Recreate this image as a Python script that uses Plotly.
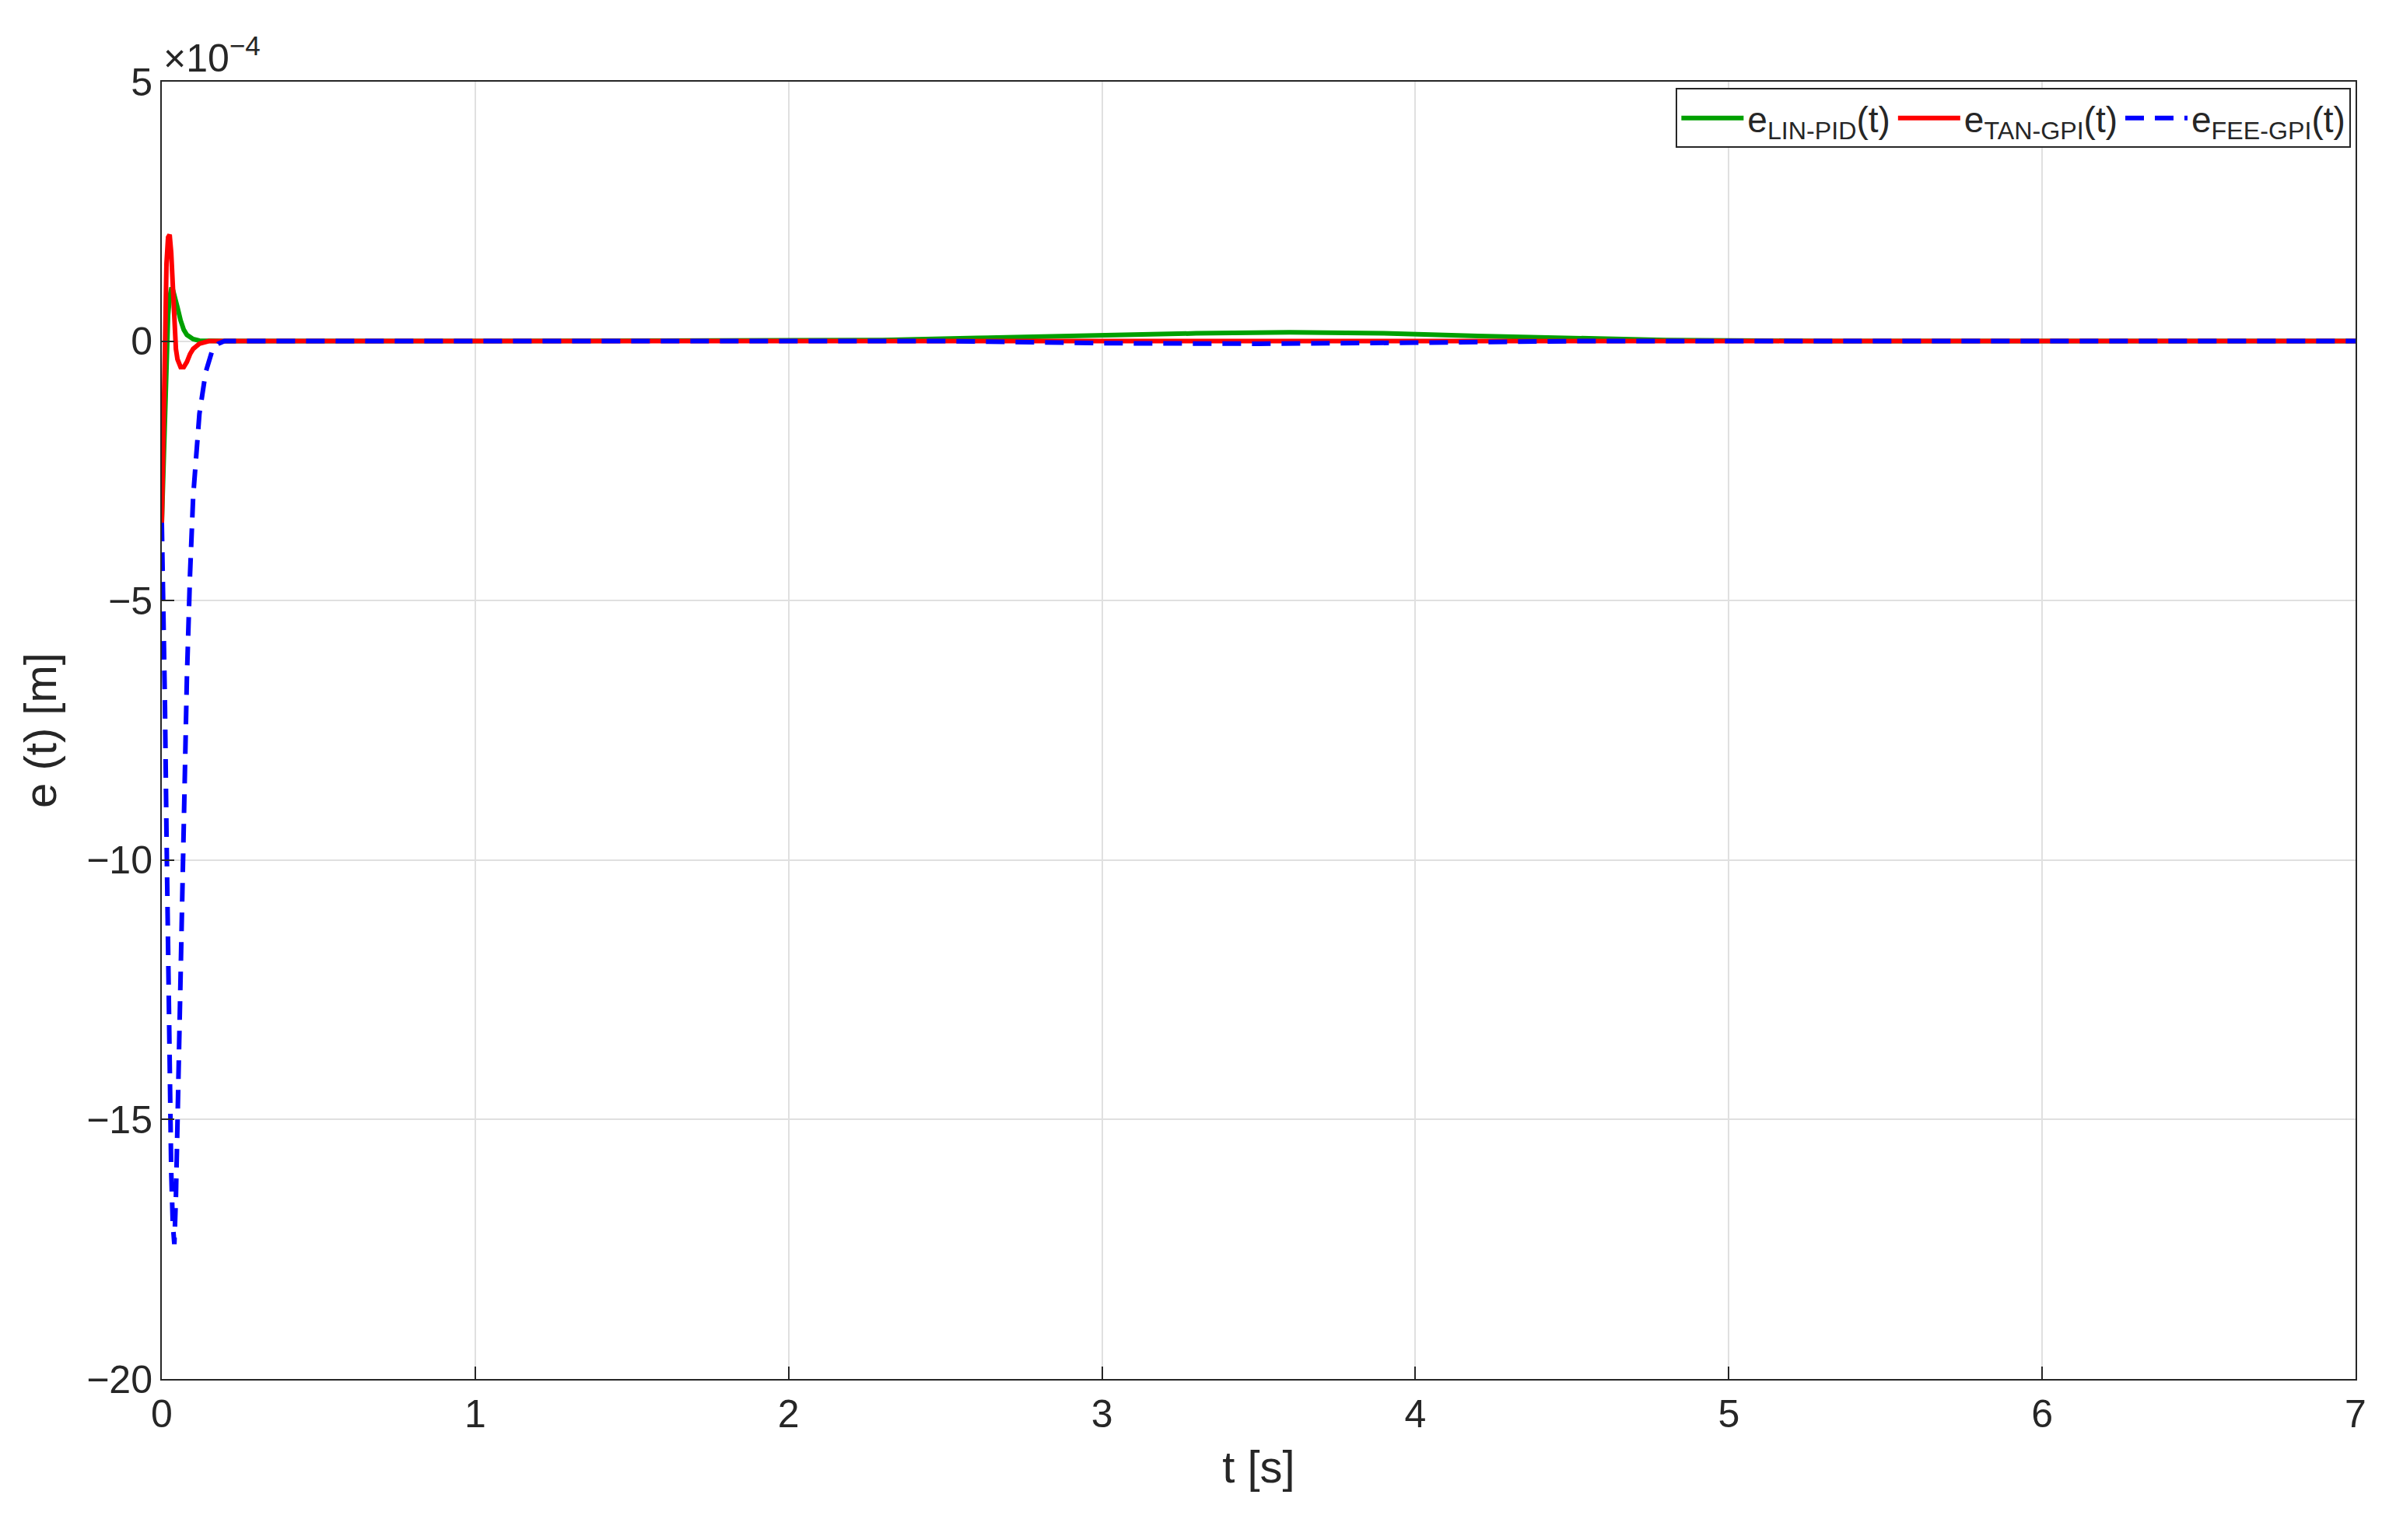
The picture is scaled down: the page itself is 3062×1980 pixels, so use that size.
import plotly.graph_objects as go

t_lin = [0, 0.005, 0.01, 0.015, 0.02, 0.025, 0.03, 0.035, 0.04, 0.05, 0.06, 0.07, 0.08, 0.1, 0.12, 0.15, 0.2, 1.0, 2.0, 2.3, 2.6, 3.0, 3.3, 3.6, 3.9, 4.2, 4.5, 4.8, 5.1, 5.3, 6.0, 7.0]
e_lin = [-3.5, -2.5, -1.2, -0.2, 0.5, 0.85, 1.0, 1.0, 0.9, 0.65, 0.4, 0.22, 0.12, 0.04, 0.01, 0.0, 0.0, 0.0, 0.0, 0.02, 0.06, 0.12, 0.15, 0.17, 0.15, 0.1, 0.05, 0.02, 0.01, 0.0, 0.0, 0.0]

t_tan = [0, 0.005, 0.01, 0.015, 0.02, 0.025, 0.03, 0.035, 0.04, 0.045, 0.05, 0.06, 0.07, 0.08, 0.09, 0.1, 0.12, 0.15, 0.2, 7.0]
e_tan = [-3.5, -1.5, 0.3, 1.5, 2.0, 2.05, 1.7, 1.0, 0.3, -0.15, -0.35, -0.5, -0.5, -0.4, -0.25, -0.15, -0.05, 0.0, 0.0, 0.0]

t_fee = [0, 0.005, 0.01, 0.015, 0.02, 0.025, 0.03, 0.035, 0.04, 0.045, 0.05, 0.055, 0.06, 0.07, 0.08, 0.09, 0.1, 0.12, 0.14, 0.16, 0.18, 0.2, 2.5, 3.0, 3.5, 4.0, 4.5, 7.0]
e_fee = [-3.5, -5.0, -7.0, -9.5, -12.0, -14.3, -16.0, -17.0, -17.4, -16.5, -15.0, -13.5, -12.0, -9.0, -6.5, -4.5, -3.0, -1.4, -0.6, -0.2, -0.05, 0.0, 0.0, -0.04, -0.05, -0.03, 0.0, 0.0]

fig = go.Figure()
fig.add_trace(go.Scatter(x=t_lin, y=e_lin, mode="lines", line=dict(color="#00A000", width=6),
                         name="e<sub>LIN-PID</sub>(t)"))
fig.add_trace(go.Scatter(x=t_tan, y=e_tan, mode="lines", line=dict(color="#FF0000", width=6),
                         name="e<sub>TAN-GPI</sub>(t)"))
fig.add_trace(go.Scatter(x=t_fee, y=e_fee, mode="lines", line=dict(color="#0000FF", width=6, dash="24px,14px"),
                         name="e<sub>FEE-GPI</sub>(t)"))

axis_common = dict(showline=True, linecolor="#262626", linewidth=2, mirror=True, ticks="inside",
                   ticklen=16, tickwidth=2, tickcolor="#262626", showgrid=True, gridcolor="#E0E0E0",
                   gridwidth=2, zeroline=False, tickfont=dict(size=50, color="#262626"))
fig.update_xaxes(range=[0, 7], dtick=1, title=dict(text="t [s]", font=dict(size=58, color="#262626"), standoff=20), **axis_common)
fig.update_yaxes(range=[-20, 5], tickvals=[5, 0, -5, -10, -15, -20], ticktext=["5", "0", "\u22125", "\u221210", "\u221215", "\u221220"],
                 title=dict(text="e (t) [m]", font=dict(size=58, color="#262626"), standoff=20), **axis_common)

fig.update_layout(
    width=3062, height=1980, plot_bgcolor="white", paper_bgcolor="white",
    font=dict(family="Liberation Sans, Arial, sans-serif", color="#262626"),
    margin=dict(l=200, r=42, t=97, b=215),
    legend=dict(orientation="h", x=0.998, y=0.995, xanchor="right", yanchor="top", itemwidth=80,
                bgcolor="white", bordercolor="#262626", borderwidth=2, font=dict(size=46)),
    annotations=[dict(text="\u00d710<sup>\u22124</sup>", xref="paper", yref="paper", x=0, y=1.0,
                      xanchor="left", yanchor="bottom", showarrow=False, font=dict(size=50, color="#262626"))],
)
fig.write_html("out.html")
